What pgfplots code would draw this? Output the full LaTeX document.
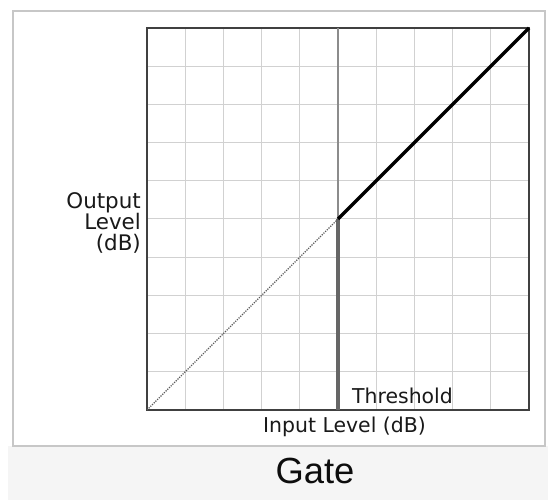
\documentclass[border=0pt]{standalone}
\usepackage{pgfplots}
\pgfplotsset{compat=1.18}
\usepackage{fontspec}
\setmainfont{DejaVu Sans}
\newfontfamily\gatefont{Liberation Sans}

\begin{document}
\begin{tikzpicture}[x=1bp,y=1bp]
% page frame (coordinates in pixels, y measured up from the bottom)
\useasboundingbox (0,0) rectangle (548,500);
\fill[white] (0,0) rectangle (548,500);
\fill[black!4] (8,0) rectangle (548,54);
\draw[black!22, line width=2bp] (13,54) rectangle (545,489);

\begin{axis}[
  at={(147bp,90bp)}, anchor=south west,
  scale only axis, width=382bp, height=382bp,
  xmin=0, xmax=10, ymin=0, ymax=10,
  xtick={0,...,10}, ytick={0,...,10},
  xticklabels={}, yticklabels={},
  major tick length=0pt,
  grid=major, grid style={line width=1bp, black!18},
  axis line style={line width=2bp, black!75},
  clip=false,
]
% threshold marker
\addplot[black!45, line width=1.4bp] coordinates {(5,5) (5,10)};
\addplot[black!60, line width=4.5bp] coordinates {(5,0) (5,5)};
% below threshold: gated (dotted reference)
\addplot[black!65, line width=1.2bp, dash pattern=on 1.2bp off 1.2bp] coordinates {(0,0) (5,5)};
% above threshold: passed unchanged
\addplot[black, line width=3.5bp] coordinates {(5,5) (10,10)};
\end{axis}

\node[anchor=base west, inner sep=0, text=black!90, font=\fontsize{20.5}{21}\selectfont]
  at (352,96) {Threshold};
\node[anchor=base, inner sep=0, text=black!90, font=\fontsize{20.5}{21}\selectfont]
  at (344.5,67) {Input Level (dB)};
\node[anchor=east, inner sep=0, align=right, text=black!90, font=\fontsize{21.5}{21}\selectfont]
  at (141,277) {Output\\Level\\(dB)};
\node[anchor=base, inner sep=0, text=black!95]
  at (315,16) {\gatefont\fontsize{36.5}{36}\selectfont Gate};
\end{tikzpicture}
\end{document}
